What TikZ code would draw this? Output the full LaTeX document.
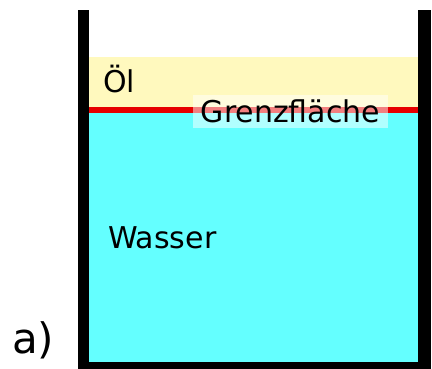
\documentclass[tikz,border=0pt]{standalone}
\usepackage{fontspec}
\setmainfont{DejaVu Sans}
\definecolor{oil}{RGB}{255,249,190}
\definecolor{water}{RGB}{100,255,255}
\definecolor{iface}{RGB}{230,0,0}
\begin{document}
\begin{tikzpicture}[x=1pt,y=-1pt,
  lbl/.style={inner sep=0pt,font=\fontsize{30}{36}\selectfont},
  wall/.style={fill=black}]
\useasboundingbox (0,0) rectangle (432,369);
% liquids
\fill[oil] (89,57) rectangle (418,110);
\fill[water] (89,110) rectangle (418,362);
\fill[iface] (89,107.5) rectangle (418,113);
% container
\fill[wall] (78,10) rectangle (89,369);
\fill[wall] (418,10) rectangle (431,369);
\fill[wall] (78,362) rectangle (431,369);
% labels
\node[lbl,anchor=base west] (oel) at (103,93) {Öl};
\node[lbl,fill=white,fill opacity=0.5,text opacity=1,minimum width=195pt,minimum height=33pt] (gf) at (290.5,111.5) {Grenzfläche};
\node[lbl,anchor=base west] (wasser) at (108,248) {Wasser};
\node[inner sep=0pt,font=\fontsize{42}{48}\selectfont,anchor=base west] (a) at (12,353) {a)};
\end{tikzpicture}
\end{document}
